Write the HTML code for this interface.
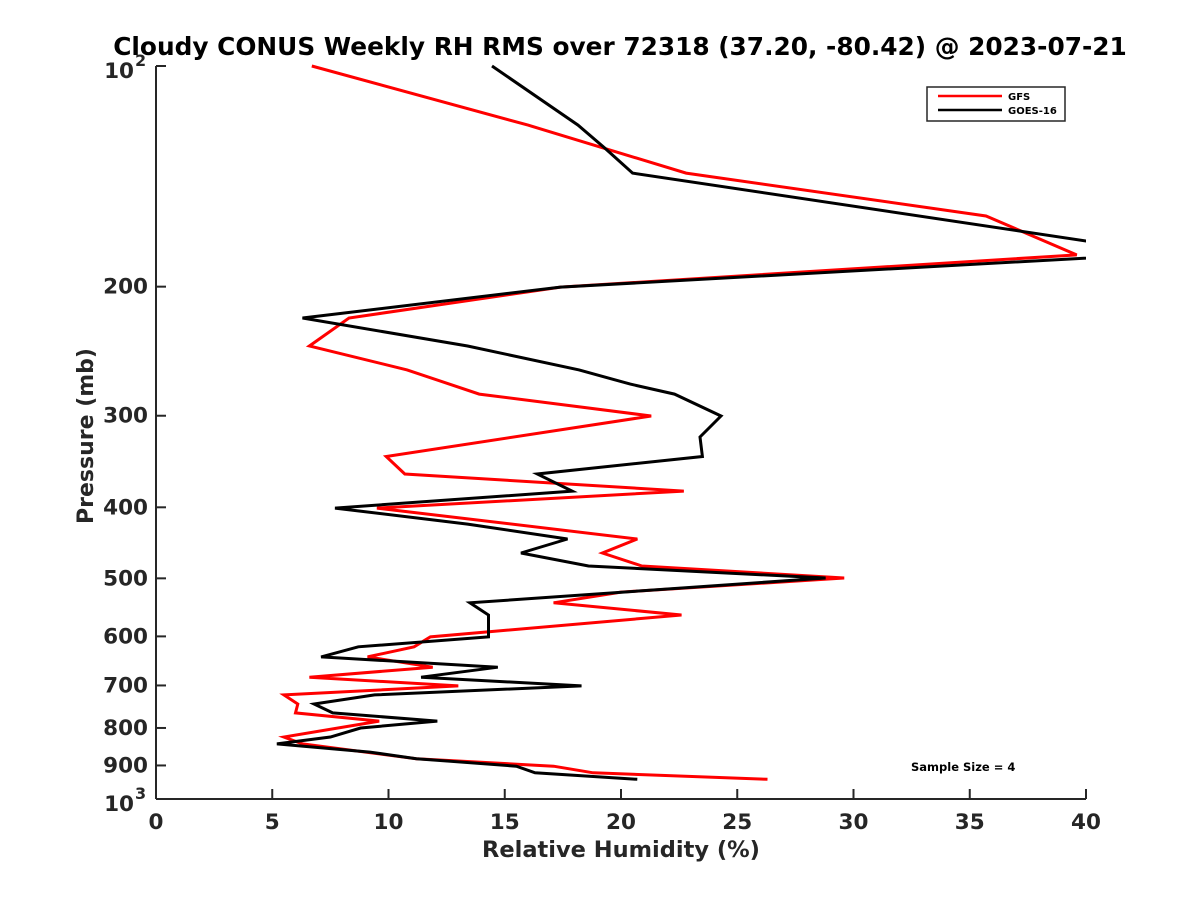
<!DOCTYPE html>
<html><head><meta charset="utf-8"><style>
body{margin:0;background:#fff}
svg{display:block;font-family:"DejaVu Sans","Liberation Sans",sans-serif;font-weight:bold}
</style></head><body>
<svg id="chart" width="1200" height="900" viewBox="0 0 1200 900">
<defs><clipPath id="plotclip"><rect x="156" y="60" width="930" height="745"/></clipPath></defs>
<text x="620" y="55" text-anchor="middle" font-size="24.8" fill="#000">Cloudy CONUS Weekly RH RMS over 72318 (37.20, -80.42) @ 2023-07-21</text>
<g id="axes"></g>
<g id="series" clip-path="url(#plotclip)"></g>
<text x="621" y="857" text-anchor="middle" font-size="22.5" fill="#262626">Relative Humidity (%)</text>
<text transform="translate(93,436) rotate(-90)" text-anchor="middle" font-size="22" fill="#262626">Pressure (mb)</text>
<g>
<rect x="927" y="87" width="138" height="34" fill="#fff" stroke="#262626" stroke-width="1.5"/>
<line x1="938" y1="96" x2="1002" y2="96" stroke="#ff0000" stroke-width="2.5"/>
<text x="1008" y="100" font-size="10" fill="#000">GFS</text>
<line x1="938" y1="110" x2="1002" y2="110" stroke="#000" stroke-width="2.5"/>
<text x="1008" y="114" font-size="10" fill="#000">GOES-16</text>
</g>
<text x="911" y="771" font-size="11.5" fill="#000">Sample Size = 4</text>
</svg>
<script>
const xTicks=[0,5,10,15,20,25,30,35,40];
const yTicks=[100,200,300,400,500,600,700,800,900,1000];
const yTickLabels=["10^2","200","300","400","500","600","700","800","900","10^3"];
const gfsP=[100,120.4,140,160.2,181,200.3,220.7,241,259.8,280.3,300.3,341,360.3,380.1,401,441.8,461.7,481,499.5,522,540,561,601,620,640,661,682,701,721,742,763,783,823,841,881,902,921,940];
const gfsRH=[6.7,16.0,22.8,35.7,39.6,17.4,8.3,6.6,10.8,13.9,21.3,9.9,10.7,22.7,9.5,20.7,19.2,20.9,29.6,20.0,17.1,22.6,11.8,11.1,9.1,11.9,6.6,13.0,5.5,6.1,6.0,9.6,5.5,6.3,11.2,17.1,18.8,26.3];
const goesP=[100,120.4,129.4,140,180.2,200.3,220.7,241,259.8,271.6,280.3,300.3,320.7,341,360.3,380.1,401,421.7,441.8,461.7,481,499.5,540,561,601,620,640,661,682,701,721,742,763,783,800,823,841,863,881,902,921,940];
const goesRH=[14.45,18.15,19.3,20.5,43.6,17.4,6.3,13.4,18.2,20.4,22.3,24.3,23.4,23.5,16.4,17.9,7.7,13.4,17.7,15.7,18.6,28.8,13.5,14.3,14.3,8.7,7.1,14.7,11.4,18.3,9.4,6.8,7.6,12.1,8.8,7.5,5.2,9.2,11.2,15.5,16.3,20.7];
const NS="http://www.w3.org/2000/svg";
const X0=156,X1=1086,Y0=66,Y1=799;
function xs(v){return X0+(v-0)/40*(X1-X0);}
function ys(p){return Y0+(Math.log10(p)-2)*(Y1-Y0);}
function mk(tag,attrs,parent){const e=document.createElementNS(NS,tag);for(const k in attrs)e.setAttribute(k,attrs[k]);parent.appendChild(e);return e;}
const axes=document.getElementById('axes');
let l=mk('line',{x1:X0,y1:Y0,x2:X0,y2:Y1,stroke:'#262626','stroke-width':2},axes);


l=mk('line',{x1:X0,y1:Y1,x2:X1,y2:Y1,stroke:'#262626','stroke-width':2},axes);


xTicks.forEach(t=>{
  const x=xs(t);
  const tk=mk('line',{x1:x,y1:Y1,x2:x,y2:Y1-10,stroke:'#262626','stroke-width':2},axes);
  
  
  const tx=mk('text',{x:x,y:Y1+30,'text-anchor':'middle','font-size':21.5,fill:'#262626'},axes);
  tx.textContent=t;
  
  
});
yTicks.forEach((t,i)=>{
  const y=ys(t);
  const tk=mk('line',{x1:X0,y1:y,x2:X0+10,y2:y,stroke:'#262626','stroke-width':2},axes);
  
  
  const lab=yTickLabels[i];
  const tx=mk('text',{x:X0-8,y:y+7,'text-anchor':'end','font-size':21.5,fill:'#262626'},axes);
  
  
  if(lab.indexOf('^')>=0){
    const parts=lab.split('^');
    tx.setAttribute('y',y+12);
    tx.setAttribute('x',X0-22);
    tx.textContent=parts[0];
    const sup=mk('text',{x:X0-21,y:y,'font-size':16,fill:'#262626'},axes);
    sup.textContent=parts[1];
    
    
  } else tx.textContent=lab;
});
const series=document.getElementById('series');
function drawLine(P,V,color,name){
  const d=P.map((p,i)=>(i?'L':'M')+xs(V[i]).toFixed(1)+','+ys(p).toFixed(1)).join(' ');
  const e=mk('path',{d:d,fill:'none',stroke:color,'stroke-width':3,'stroke-linejoin':'miter'},series);
  
  
}
drawLine(gfsP,gfsRH,'#ff0000','gfs-line');
drawLine(goesP,goesRH,'#000','goes16-line');
</script>
</body></html>
